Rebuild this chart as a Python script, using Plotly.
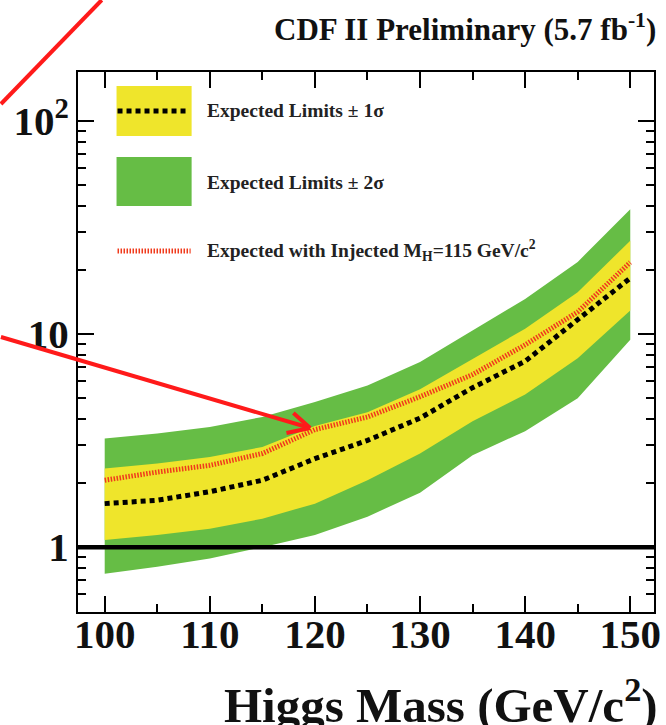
import plotly.graph_objects as go

# ---- data ----
mass = [100, 105, 110, 115, 120, 125, 130, 135, 140, 145, 150]
two_sigma_lo = [0.75, 0.81, 0.885, 1.0, 1.14, 1.39, 1.80, 2.70, 3.50, 5.00, 9.4]
one_sigma_lo = [1.08, 1.14, 1.22, 1.36, 1.60, 2.06, 2.75, 3.90, 5.20, 7.70, 12.9]
expected = [1.60, 1.66, 1.82, 2.06, 2.60, 3.17, 4.03, 5.60, 7.45, 11.6, 18.3]
injected = [2.06, 2.25, 2.42, 2.75, 3.56, 4.08, 5.08, 6.45, 8.90, 12.7, 21.7]
one_sigma_hi = [2.34, 2.47, 2.65, 2.95, 3.70, 4.30, 5.50, 7.60, 10.6, 15.7, 27.4]
two_sigma_hi = [3.23, 3.41, 3.66, 4.08, 4.80, 5.74, 7.40, 10.4, 14.6, 21.8, 38.5]

x_ticks = [100, 110, 120, 130, 140, 150]
x_minor = [105, 115, 125, 135, 145]
y_ticks = [1, 10, 100]
y_ticktext = ["1", "10", "10<sup>2</sup>"]
y_minor = [0.6, 0.7, 0.8, 0.9, 2, 3, 4, 5, 6, 7, 8, 9, 20, 30, 40, 50, 60, 70, 80, 90]

legend_labels = ["Expected Limits \u00b1 1\u03c3", "Expected Limits \u00b1 2\u03c3",
                 "Expected with Injected M<sub>H</sub>=115 GeV/c<sup>2</sup>"]

GREEN = "#66bd45"
YELLOW = "#efe52b"
RED = "#f03a1c"
SERIF = "Liberation Serif"

W, H = 666, 725
PL, PR, PT, PB = 78, 661, 72, 612


def px(xp):
    return (xp - PL) / (PR - PL)


def py(yp):
    return (PB - yp) / (PB - PT)


fig = go.Figure()

fig.add_trace(go.Scatter(x=mass + mass[::-1], y=two_sigma_hi + two_sigma_lo[::-1],
                         fill="toself", fillcolor=GREEN, line=dict(width=0),
                         mode="lines", hoverinfo="skip"))
fig.add_trace(go.Scatter(x=mass + mass[::-1], y=one_sigma_hi + one_sigma_lo[::-1],
                         fill="toself", fillcolor=YELLOW, line=dict(width=0),
                         mode="lines", hoverinfo="skip"))
fig.add_trace(go.Scatter(x=mass, y=injected, mode="lines",
                         line=dict(color=RED, width=5, dash="1.5px,1.5px")))
fig.add_trace(go.Scatter(x=mass, y=expected, mode="lines",
                         line=dict(color="black", width=5, dash="5px,4px")))

shapes = []
# horizontal line at 1
shapes.append(dict(type="line", xref="paper", yref="y", x0=0, x1=1, y0=1, y1=1,
                   line=dict(color="black", width=4.5), layer="above"))
# legend swatches
shapes.append(dict(type="rect", xref="paper", yref="paper", x0=px(117), x1=px(193),
                   y0=py(136), y1=py(86), fillcolor=YELLOW, line=dict(width=0)))
shapes.append(dict(type="line", xref="paper", yref="paper", x0=px(118), x1=px(190),
                   y0=py(111), y1=py(111), line=dict(color="black", width=5, dash="5px,4px")))
shapes.append(dict(type="rect", xref="paper", yref="paper", x0=px(117), x1=px(193),
                   y0=py(206), y1=py(157), fillcolor=GREEN, line=dict(width=0)))
shapes.append(dict(type="line", xref="paper", yref="paper", x0=px(118), x1=px(192),
                   y0=py(251), y1=py(251), line=dict(color=RED, width=5, dash="1.5px,1.5px")))
# red overlay lines (annotation marks drawn on the slide)
red_line = dict(color="#ff1a1a", width=4)
for (xa, ya, xb, yb) in [(102, 0, 0, 104), (0, 337, 313, 428), (313, 428, 296, 413),
                          (313, 428, 289, 433)]:
    shapes.append(dict(type="line", xref="paper", yref="paper", x0=px(xa), y0=py(ya),
                       x1=px(xb), y1=py(yb), line=red_line, layer="above"))

annotations = []
for lab, yy in zip(legend_labels, [111, 182, 250]):
    annotations.append(dict(xref="paper", yref="paper", x=px(207), y=py(yy), xanchor="left",
                            yanchor="middle", text=lab, showarrow=False,
                            font=dict(family=SERIF, size=19.5, color="#222", weight="bold")))
annotations.append(dict(xref="paper", yref="paper", x=px(665), y=py(27), xanchor="right",
                        yanchor="middle", text="CDF II Preliminary (5.7 fb<sup>-1</sup>)",
                        showarrow=False,
                        font=dict(family=SERIF, size=31, color="#111", weight="bold")))
annotations.append(dict(xref="paper", yref="paper", x=px(224), y=py(668), xanchor="left",
                        yanchor="top", text="Higgs Mass (GeV/c<sup>2</sup>)", showarrow=False,
                        font=dict(family=SERIF, size=49, color="#111", weight="bold")))

axis_common = dict(showline=True, linecolor="black", linewidth=2, mirror="allticks",
                   ticks="inside", ticklen=16, tickwidth=2, tickcolor="black",
                   showgrid=False, zeroline=False)

fig.update_layout(
    width=W, height=H,
    margin=dict(l=PL, r=W - PR, t=PT, b=H - PB),
    paper_bgcolor="white", plot_bgcolor="white",
    showlegend=False,
    shapes=shapes, annotations=annotations,
    xaxis=dict(range=[97.46, 152.26], tickvals=x_ticks,
               minor=dict(tickvals=x_minor, ticks="inside", ticklen=8, tickwidth=2,
                          tickcolor="black", showgrid=False),
               tickfont=dict(family=SERIF, size=41, color="#111", weight="bold"),
               ticklabelstandoff=-15,
               **axis_common),
    yaxis=dict(type="log", range=[-0.3044, 2.2295], tickvals=y_ticks, ticktext=y_ticktext,
               minor=dict(tickvals=y_minor, ticks="inside", ticklen=8, tickwidth=2,
                          tickcolor="black", showgrid=False),
               tickfont=dict(family=SERIF, size=41, color="#111", weight="bold"),
               ticklabelstandoff=-1,
               **axis_common),
)

fig.write_html("out.html", config={"displayModeBar": False},
               post_script="document.body.style.margin='0px';")
